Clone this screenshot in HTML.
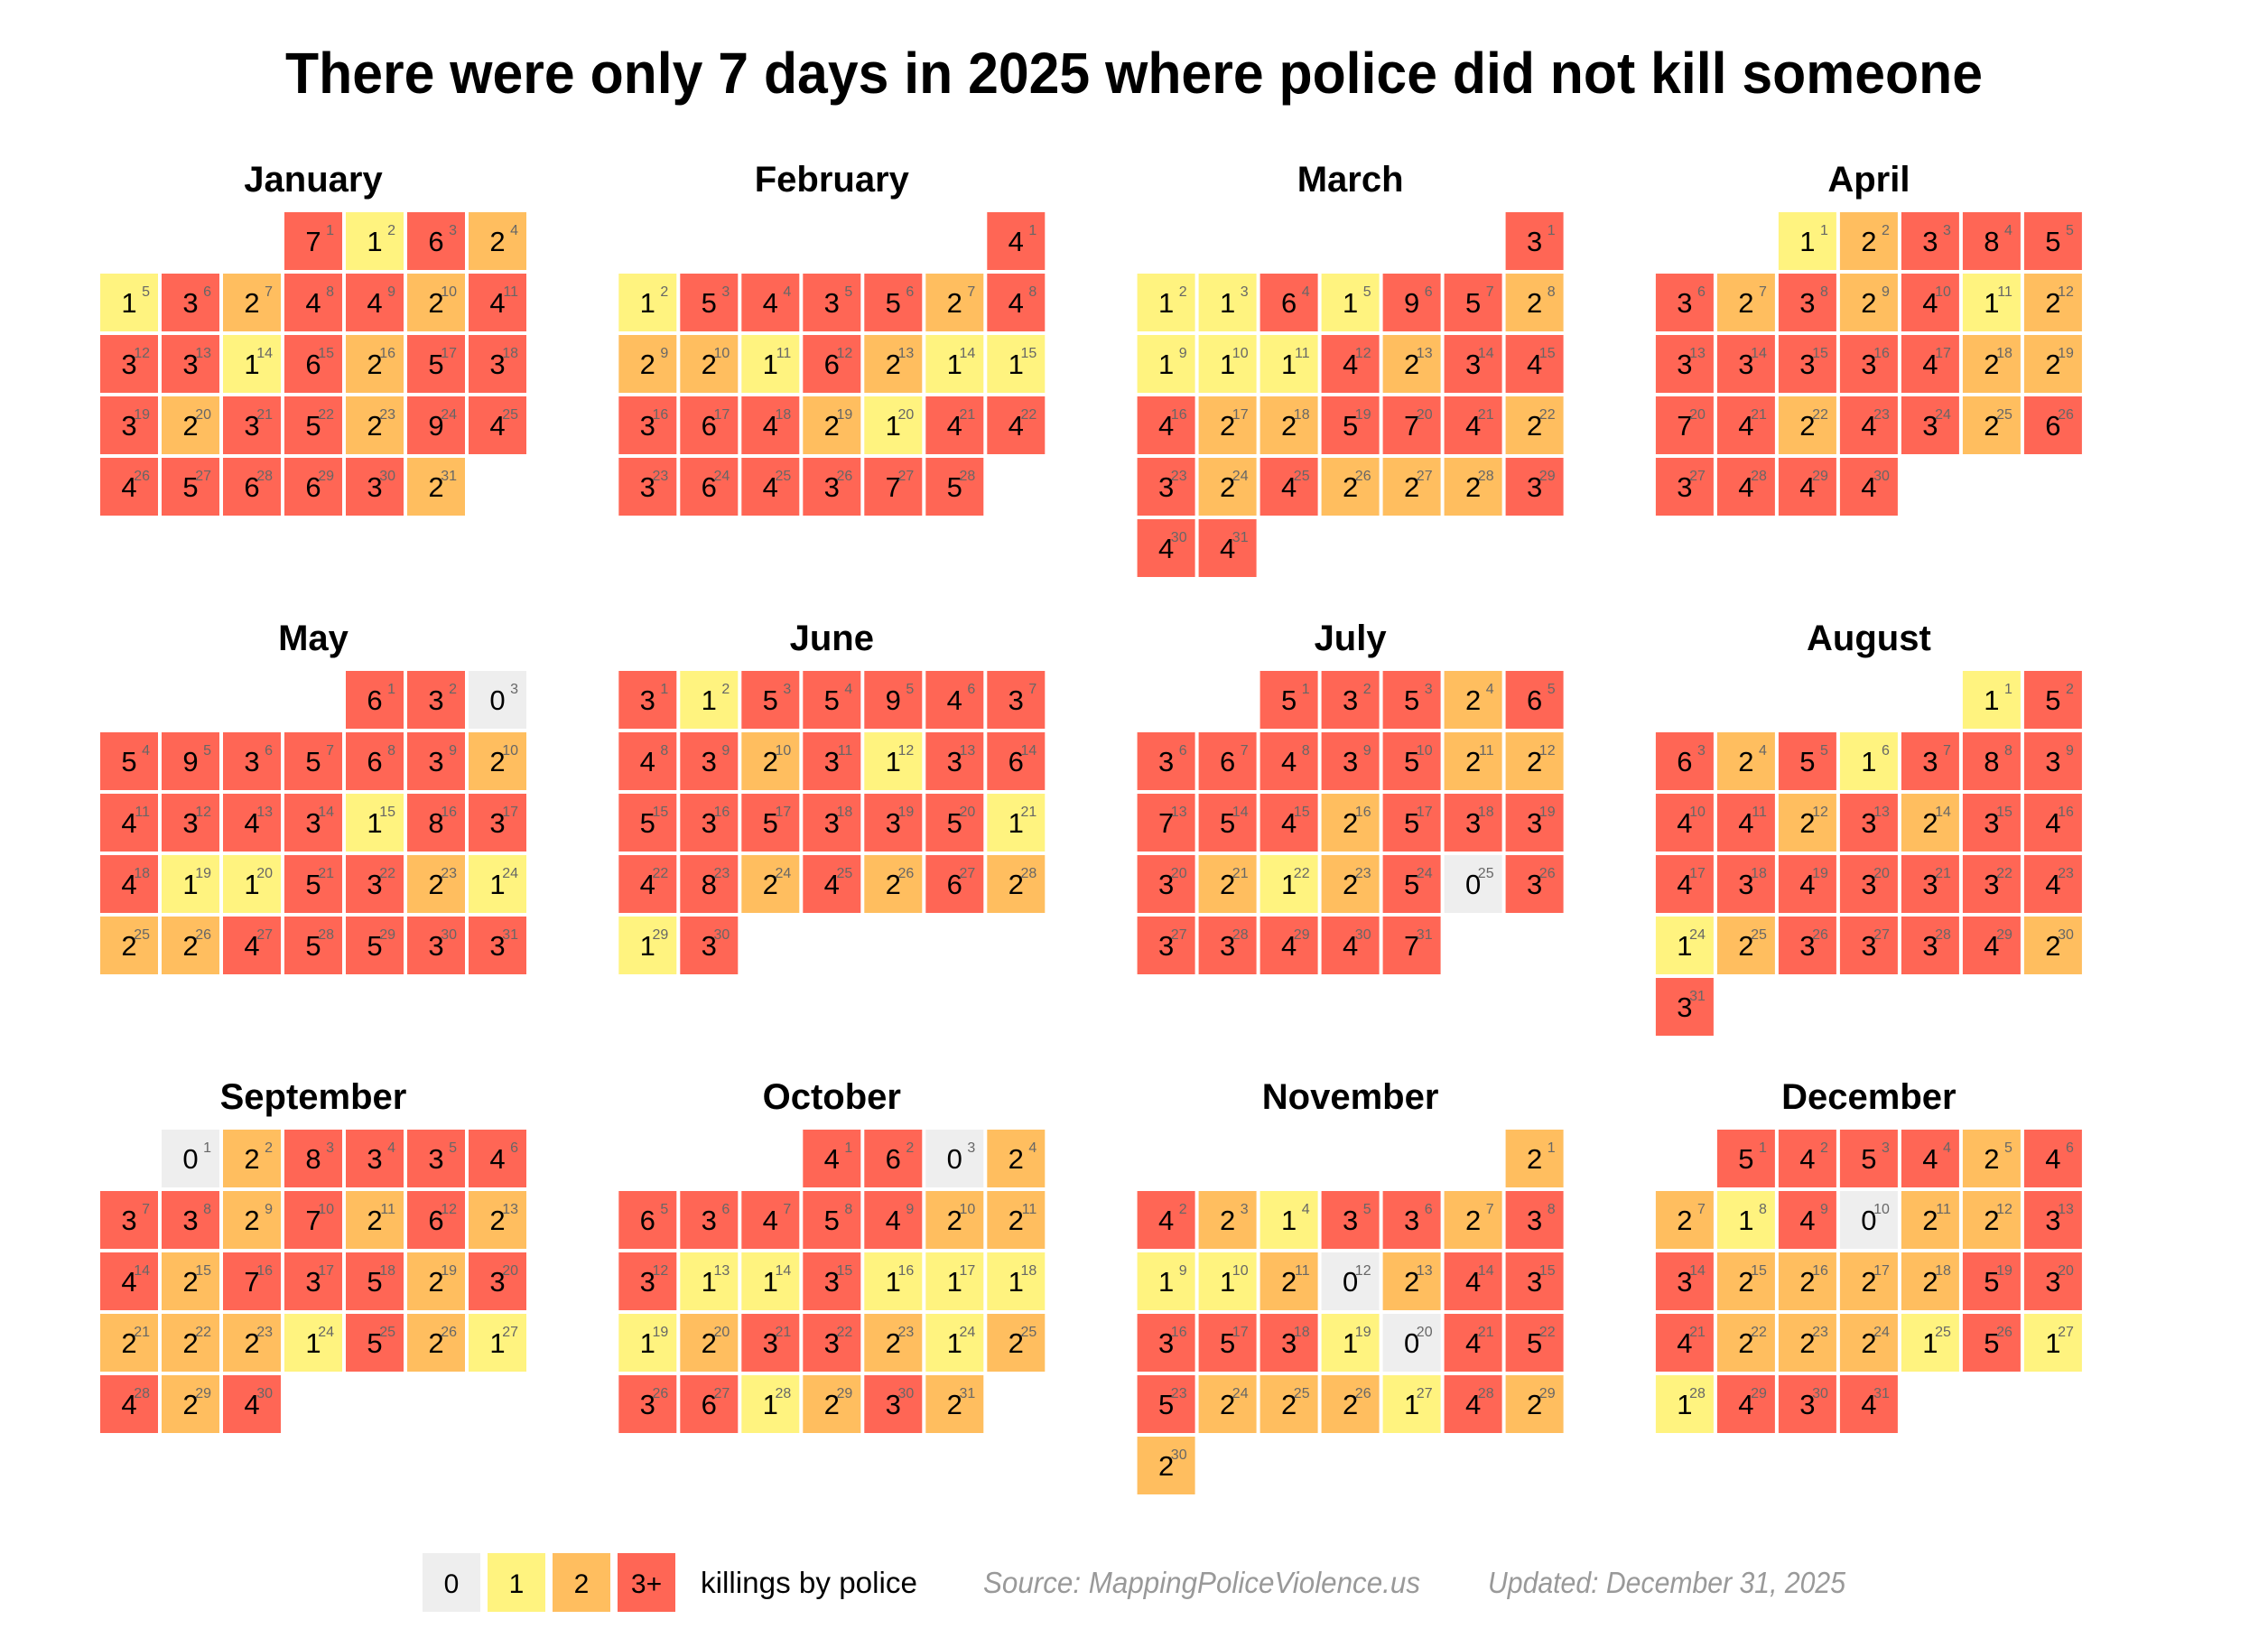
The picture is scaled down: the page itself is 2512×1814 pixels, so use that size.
<!DOCTYPE html>
<html><head><meta charset="utf-8"><style>
html,body{margin:0;padding:0;background:#fff;}
svg{display:block;font-family:"Liberation Sans Narrow","Liberation Sans",sans-serif;}
</style></head><body>
<svg id="chart" width="2512" height="1814" viewBox="0 0 2512 1814" xmlns="http://www.w3.org/2000/svg">
<text x="1256" y="103" text-anchor="middle" font-size="64" font-weight="bold" textLength="1880" lengthAdjust="spacingAndGlyphs">There were only 7 days in 2025 where police did not kill someone</text>
<g id="months"></g>
<g>
<rect x="468" y="1720" width="64" height="65" fill="#eeeeee"/>
<text x="500" y="1764" text-anchor="middle" font-size="30">0</text>
<rect x="540" y="1720" width="64" height="65" fill="#fff37f"/>
<text x="572" y="1764" text-anchor="middle" font-size="30">1</text>
<rect x="612" y="1720" width="64" height="65" fill="#ffbe5f"/>
<text x="644" y="1764" text-anchor="middle" font-size="30">2</text>
<rect x="684" y="1720" width="64" height="65" fill="#ff6655"/>
<text x="716" y="1764" text-anchor="middle" font-size="30">3+</text>
<text x="776" y="1764" font-size="33" textLength="240" lengthAdjust="spacingAndGlyphs">killings by police</text>
</g>
<text x="1089" y="1764" font-size="33" font-style="italic" fill="#999" textLength="484" lengthAdjust="spacingAndGlyphs">Source: MappingPoliceViolence.us</text>
<text x="1648" y="1764" font-size="33" font-style="italic" fill="#999" textLength="396" lengthAdjust="spacingAndGlyphs">Updated: December 31, 2025</text>
</svg>
<script>
const monthNames = ["January","February","March","April","May","June","July","August","September","October","November","December"];
const jan = [7,1,6,2,1,3,2,4,4,2,4,3,3,1,6,2,5,3,3,2,3,5,2,9,4,4,5,6,6,3,2];
const feb = [4,1,5,4,3,5,2,4,2,2,1,6,2,1,1,3,6,4,2,1,4,4,3,6,4,3,7,5];
const mar = [3,1,1,6,1,9,5,2,1,1,1,4,2,3,4,4,2,2,5,7,4,2,3,2,4,2,2,2,3,4,4];
const apr = [1,2,3,8,5,3,2,3,2,4,1,2,3,3,3,3,4,2,2,7,4,2,4,3,2,6,3,4,4,4];
const may = [6,3,0,5,9,3,5,6,3,2,4,3,4,3,1,8,3,4,1,1,5,3,2,1,2,2,4,5,5,3,3];
const jun = [3,1,5,5,9,4,3,4,3,2,3,1,3,6,5,3,5,3,3,5,1,4,8,2,4,2,6,2,1,3];
const jul = [5,3,5,2,6,3,6,4,3,5,2,2,7,5,4,2,5,3,3,3,2,1,2,5,0,3,3,3,4,4,7];
const aug = [1,5,6,2,5,1,3,8,3,4,4,2,3,2,3,4,4,3,4,3,3,3,4,1,2,3,3,3,4,2,3];
const sep = [0,2,8,3,3,4,3,3,2,7,2,6,2,4,2,7,3,5,2,3,2,2,2,1,5,2,1,4,2,4];
const oct = [4,6,0,2,6,3,4,5,4,2,2,3,1,1,3,1,1,1,1,2,3,3,2,1,2,3,6,1,2,3,2];
const nov = [2,4,2,1,3,3,2,3,1,1,2,0,2,4,3,3,5,3,1,0,4,5,5,2,2,2,1,4,2,2];
const dec = [5,4,5,4,2,4,2,1,4,0,2,2,3,3,2,2,2,2,5,3,4,2,2,2,1,5,1,1,4,3,4];
const months = [jan,feb,mar,apr,may,jun,jul,aug,sep,oct,nov,dec];

const NS = "http://www.w3.org/2000/svg";
const g = document.getElementById("months");
const X0 = 111, Y0 = 235, MPX = 574.3, MPY = 508, PITCH = 68, CELL = 64;
function color(v){ return v===0?"#eeeeee":v===1?"#fff37f":v===2?"#ffbe5f":"#ff6655"; }
function mk(tag, attrs){ const e=document.createElementNS(NS,tag); for(const k in attrs) e.setAttribute(k,attrs[k]); return e; }

months.forEach((vals, m) => {
  const mx = X0 + (m%4)*MPX, my = Y0 + Math.floor(m/4)*MPY;
  const grp = mk("g", {});
  
  
  const t = mk("text", {x: mx + 3.5*PITCH - 2, y: my - 23, "text-anchor":"middle", "font-size":"40", "font-weight":"bold"});
  
  
  t.textContent = monthNames[m];
  grp.appendChild(t);
  const startDow = new Date(2025, m, 1).getDay();
  vals.forEach((v, i) => {
    const idx = startDow + i;
    const col = idx % 7, row = Math.floor(idx / 7);
    const x = mx + col*PITCH, y = my + row*PITCH;
    const r = mk("rect", {x:x, y:y, width:CELL, height:CELL, fill:color(v)});
    
    
    grp.appendChild(r);
    const n = mk("text", {x:x+32, y:y+43, "text-anchor":"middle", "font-size":"31"});
    
    
    n.textContent = v;
    grp.appendChild(n);
    const d = mk("text", {x:x+55, y:y+25, "text-anchor":"end", "font-size":"16", fill:"#666"});
    
    
    d.textContent = i+1;
    grp.appendChild(d);
  });
  g.appendChild(grp);
});
</script>
</body></html>
